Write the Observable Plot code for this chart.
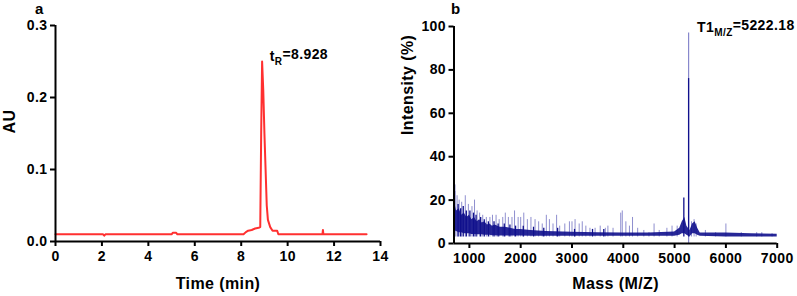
<!DOCTYPE html>
<html>
<head>
<meta charset="utf-8">
<script src="https://cdn.jsdelivr.net/npm/d3@7"></script>
<script src="https://cdn.jsdelivr.net/npm/@observablehq/plot@0.6"></script>
<style>
  body { margin: 0; background: #fff; }
  #wrap { display: flex; width: 797px; height: 296px; }
  svg { font-family: "Liberation Sans", Arial, sans-serif; font-weight: bold; overflow: visible; }
</style>
</head>
<body>
<div id="wrap"></div>
<script>
// ---- Panel a: HPLC chromatogram ----
const hplcTime = [0, 2.05, 2.1, 2.15, 5.0, 5.05, 5.2, 5.25, 8.1, 8.2, 8.3, 8.45, 8.6, 8.75, 8.82, 8.86, 8.9, 8.95, 9.0, 9.05, 9.1, 9.15, 9.25, 9.35, 9.55, 9.6, 11.5, 11.52, 11.54, 13.4];
const hplcAU   = [0.01, 0.01, 0.008, 0.01, 0.01, 0.012, 0.012, 0.01, 0.01, 0.013, 0.015, 0.016, 0.018, 0.019, 0.02, 0.15, 0.25, 0.21, 0.15, 0.1, 0.05, 0.03, 0.02, 0.015, 0.015, 0.01, 0.01, 0.016, 0.01, 0.01];
const timeTicks = [0, 2, 4, 6, 8, 10, 12, 14];
const auTicks = [0, 0.1, 0.2, 0.3];
const peakLabelA = {x: 9.25, y: 0.257, main: "t", sub: "R", rest: "=8.928"};

// ---- Panel b: mass spectrum ----
const bandMass = [700, 750, 800, 850, 900, 950, 1000, 1050, 1100, 1150, 1200, 1250, 1300, 1350, 1400, 1450, 1500, 1600, 1700, 1800, 1900, 2000, 2200, 2500, 3000, 3500, 4000, 4500, 5000, 5100, 5150, 5200, 5240, 5300, 5350, 5400, 5450, 5500, 6000, 6500, 7000];
const bandLo   = [6, 5.5, 5, 5, 4.5, 4.5, 4.5, 4.2, 4.2, 4, 4, 4, 3.8, 3.8, 3.8, 3.6, 3.6, 3.5, 3.5, 3.5, 3.4, 3.4, 3.3, 3.3, 3.3, 3.3, 3.3, 3.3, 3.3, 3.8, 4.5, 4.5, 3.8, 3, 4.5, 4.5, 3.8, 3.3, 3, 3, 3];
const bandHi   = [20, 15, 16, 13, 14, 12, 13, 11, 12, 10, 11, 9.5, 10, 8.5, 9, 8, 8.5, 7.5, 7.5, 7, 6.5, 6.5, 6, 5.5, 5.2, 5, 4.8, 4.8, 5.3, 7, 10, 12, 8, 6, 9, 10, 7, 4.8, 4.8, 4.5, 4.3];
const spikeMass = [720, 760, 800, 850, 920, 980, 1050, 1100, 1150, 1200, 1260, 1330, 1400, 1450, 1520, 1580, 1650, 1700, 1760, 1830, 1880, 1950, 2000, 2060, 2130, 2200, 2280, 2350, 2420, 2500, 2560, 2630, 2700, 2760, 2860, 2950, 3000, 3060, 3140, 3200, 3270, 3350, 3450, 3550, 3650, 3700, 3800, 3950, 3980, 4050, 4120, 4180, 4280, 4400, 4500, 4600, 4700, 4850, 4950, 5050, 5330, 5380, 5420, 5600, 5800, 6000, 6300, 6600, 6700, 6900];
const spikeInt  = [27, 22, 20, 19, 22, 18, 17, 20, 15, 14, 13, 12, 12, 13, 13, 11, 12, 14, 12, 12, 15, 12, 12, 14, 11, 12, 11, 10, 9, 13, 11, 9, 13, 8, 9, 10, 10, 11, 9, 10, 8, 7, 7, 8, 7, 8, 7, 14, 15, 10, 8, 12, 7, 6, 5, 9, 6, 7, 8, 8, 10, 11, 9, 6, 5, 9, 5, 5, 5, 4.5];
const darkSpikeMass = [710, 780, 830, 880, 940, 1010, 1080, 1130, 1220, 1290, 1370, 1480, 1560, 1680, 1790, 1900, 2050, 2250, 2450, 2720, 3050, 3400, 3620, 5180, 5273];
const darkSpikeInt  = [24, 18, 16, 17, 15, 15, 14, 13, 12, 11, 10, 10, 9, 9, 8.5, 8, 8, 7.5, 7, 7, 6.5, 6.5, 6.5, 21, 76];
const mainPeakMass = 5273, mainPeakTop = 97;
const massTicks = [1000, 2000, 3000, 4000, 5000, 6000, 7000];
const intTicks = [0, 20, 40, 60, 80, 100];
const peakLabelB = {x: 5448, y: 99.5, main: "T1", sub: "M/Z", rest: "=5222.18"};

const wrap = document.getElementById("wrap");
const axisStyle = {fontSize: "14px", fontWeight: "bold", color: "#000", letterSpacing: "0.4px", overflow: "visible"};

function addLabel(svg, plot, lab) {
  const sx = plot.scale("x"), sy = plot.scale("y");
  const t = d3.select(svg).append("text")
    .attr("x", sx.apply(lab.x)).attr("y", sy.apply(lab.y))
    .attr("text-anchor", "start")
    .attr("dy", "0.35em").attr("font-size", 14).attr("font-weight", "bold").attr("fill", "#000");
  t.append("tspan").text(lab.main);
  t.append("tspan").attr("font-size", 10).attr("dy", "0.45em").text(lab.sub);
  t.append("tspan").attr("dy", "-0.45em").text(lab.rest);
}
function addPanelLetter(svg, letter, x) {
  d3.select(svg).append("text").attr("x", x).attr("y", 13.6).attr("text-anchor", "start")
    .attr("font-size", 15).attr("font-weight", "bold").attr("fill", "#000").text(letter);
}

const hplc = hplcTime.map((t, i) => ({t, au: hplcAU[i]}));
const plotA = Plot.plot({
  width: 400, height: 296,
  marginLeft: 55, marginRight: 20, marginTop: 25, marginBottom: 55,
  style: axisStyle,
  x: {domain: [0, 14]},
  y: {domain: [0, 0.3]},
  marks: [
    Plot.line(hplc, {x: "t", y: "au", stroke: "#ff3030", strokeWidth: 2}),
    Plot.axisX({ticks: timeTicks, tickSize: 5, tickPadding: 5, tickFormat: d3.format("d"), label: null, strokeWidth: 2, stroke: "#000"}),
    Plot.axisY({ticks: auTicks, tickSize: 5, tickPadding: 3, tickFormat: d3.format(".1f"), label: null, strokeWidth: 2, stroke: "#000"}),
    Plot.ruleY([0], {strokeWidth: 2, stroke: "#000"}),
    Plot.ruleX([0], {strokeWidth: 2, stroke: "#000"}),
    Plot.text(["Time (min)"], {frameAnchor: "bottom", dy: 47, fontSize: 16, fontWeight: "bold"}),
    Plot.text(["AU"], {frameAnchor: "left", dx: -46, rotate: -90, fontSize: 16, fontWeight: "bold"})
  ]
});
wrap.appendChild(plotA);
addLabel(plotA, plotA, peakLabelA);
addPanelLetter(plotA, "a", 35);

const band = bandMass.map((m, i) => ({m, lo: bandLo[i], hi: bandHi[i]}));
const spikes = spikeMass.map((m, i) => ({m, v: spikeInt[i]}));
const darkSpikes = darkSpikeMass.map((m, i) => ({m, v: darkSpikeInt[i]}));
const plotB = Plot.plot({
  width: 397, height: 296,
  marginLeft: 53.5, marginRight: 20.3, marginTop: 26, marginBottom: 53,
  style: axisStyle,
  x: {domain: [700, 7000]},
  y: {domain: [0, 100]},
  marks: [
    Plot.ruleX(spikes, {x: "m", y1: 3, y2: "v", stroke: "#6a6abf", strokeOpacity: 0.75, strokeWidth: 1}),
    Plot.areaY(band, {x: "m", y1: "lo", y2: "hi", fill: "#10108c", fillOpacity: 0.9, curve: "linear"}),
    Plot.ruleX([mainPeakMass], {y1: 0, y2: mainPeakTop, stroke: "#8888cc", strokeWidth: 1.2}),
    Plot.ruleX(darkSpikes, {x: "m", y1: 3, y2: "v", stroke: "#10108c", strokeWidth: 1.3}),
    Plot.axisX({ticks: massTicks, tickSize: 5, tickPadding: 5, tickFormat: d3.format("d"), label: null, strokeWidth: 2, stroke: "#000"}),
    Plot.axisY({ticks: intTicks, tickSize: 5, tickPadding: 3, tickFormat: d3.format("d"), label: null, strokeWidth: 2, stroke: "#000"}),
    Plot.ruleY([0], {strokeWidth: 2, stroke: "#000"}),
    Plot.ruleX([700], {strokeWidth: 2, stroke: "#000"}),
    Plot.text(["Mass (M/Z)"], {frameAnchor: "bottom", dy: 45, fontSize: 16, fontWeight: "bold"}),
    Plot.text(["Intensity (%)"], {frameAnchor: "left", dx: -46, rotate: -90, fontSize: 16, fontWeight: "bold"})
  ]
});
wrap.appendChild(plotB);
addLabel(plotB, plotB, peakLabelB);
addPanelLetter(plotB, "b", 51);
</script>
</body>
</html>
